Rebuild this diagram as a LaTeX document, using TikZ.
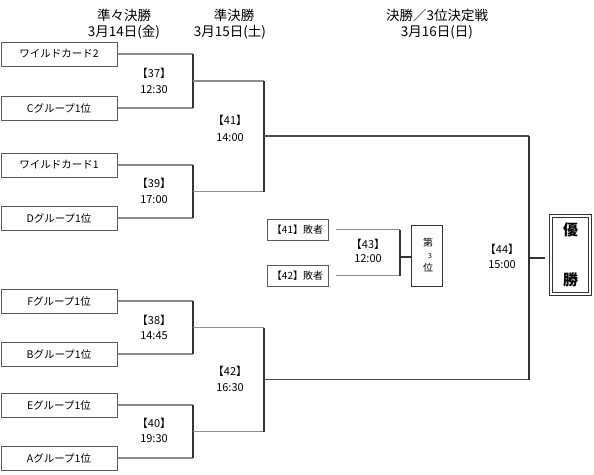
\documentclass[tikz,border=0pt]{standalone}
\usepackage{fontspec}
\setmainfont{Noto Sans CJK JP}
\begin{document}
\begin{tikzpicture}[x=1pt,y=-1pt,
  team/.style={draw=black!65, line width=1pt, minimum width=116pt, minimum height=24pt, inner sep=0pt, font=\fontsize{10.5}{12}\selectfont},
  loser/.style={draw=black!65, line width=1pt, minimum width=61pt, minimum height=21pt, inner sep=0pt, font=\fontsize{10}{12}\selectfont},
  hl/.style={draw=black!45, line width=1.3pt},
  hd/.style={draw=black!70, line width=1.2pt},
  vl/.style={draw=black!80, line width=1.2pt},
  lab/.style={font=\fontsize{11}{12}\selectfont, inner sep=0pt},
  hdr/.style={font=\fontsize{13.5}{15}\selectfont, inner sep=0pt}]
\useasboundingbox (0,0) rectangle (594,474);
% headers
\node[hdr] (h1a) at (124,15) {準々決勝};
\node[hdr] (h1b) at (124,32) {3月14日(金)};
\node[hdr] (h2a) at (234,15) {準決勝};
\node[hdr] (h2b) at (230,32) {3月15日(土)};
\node[hdr] (h3a) at (437,15) {決勝／3位決定戦};
\node[hdr] (h3b) at (437,32) {3月16日(日)};
% teams
\node[team] (t1) at (59,54) {ワイルドカード2};
\node[team] (t2) at (59,108) {Cグループ1位};
\node[team] (t3) at (59,165) {ワイルドカード1};
\node[team] (t4) at (59,218) {Dグループ1位};
\node[team] (t5) at (59,301) {Fグループ1位};
\node[team] (t6) at (59,354) {Bグループ1位};
\node[team] (t7) at (59,405) {Eグループ1位};
\node[team] (t8) at (59,458) {Aグループ1位};
% junction coordinates
\coordinate (a1) at (193,54); \coordinate (a2) at (193,108); \coordinate (m37) at (193,81);
\coordinate (a3) at (193,165); \coordinate (a4) at (193,218); \coordinate (m39) at (193,191.5);
\coordinate (a5) at (193,301); \coordinate (a6) at (193,354); \coordinate (m38) at (193,327.5);
\coordinate (a7) at (193,405); \coordinate (a8) at (193,458); \coordinate (m40) at (193,431.5);
\coordinate (b1) at (264,81); \coordinate (b2) at (264,191.5); \coordinate (m41) at (264,136);
\coordinate (b3) at (264,327.5); \coordinate (b4) at (264,431.5); \coordinate (m42) at (264,379.5);
\coordinate (c1) at (529,136); \coordinate (c2) at (529,379.5); \coordinate (m44) at (529,258);
% first round
\draw[hl] (t1.east) -- (a1); \draw[hl] (t2.east) -- (a2); \draw[vl] (a1) -- (a2);
\draw[hl] (t3.east) -- (a3); \draw[hl] (t4.east) -- (a4); \draw[vl] (a3) -- (a4);
\draw[hl] (t5.east) -- (a5); \draw[hl] (t6.east) -- (a6); \draw[vl] (a5) -- (a6);
\draw[hl] (t7.east) -- (a7); \draw[hl] (t8.east) -- (a8); \draw[vl] (a7) -- (a8);
% semifinal
\draw[hl] (m37) -- (b1); \draw[hl] (m39) -- (b2); \draw[vl] (b1) -- (b2);
\draw[hl] (m38) -- (b3); \draw[hl] (m40) -- (b4); \draw[vl] (b3) -- (b4);
% final
\draw[hd] (m41) -- (c1); \draw[hd] (m42) -- (c2); \draw[vl] (c1) -- (c2);
% champion box
\node[draw=black!80, double, double distance=2pt, line width=0.9pt, minimum width=39pt, minimum height=78pt, inner sep=0pt] (champ) at (570.5,255) {};
\node[font=\fontsize{15}{16}\selectfont\bfseries, inner sep=0pt] (yu) at (570.5,230) {優};
\node[font=\fontsize{15}{16}\selectfont\bfseries, inner sep=0pt] (sho) at (570.5,280) {勝};
\draw[vl, shorten >=6pt] (m44) -- (m44 -| champ.west);
% labels
\node[lab] (l37) at (154,73) {【37】}; \node[lab] (k37) at (154,90) {12:30};
\node[lab] (l39) at (154,183) {【39】}; \node[lab] (k39) at (154,200) {17:00};
\node[lab] (l38) at (154,320) {【38】}; \node[lab] (k38) at (154,336) {14:45};
\node[lab] (l40) at (154,423) {【40】}; \node[lab] (k40) at (154,439) {19:30};
\node[lab] (l41) at (230,120) {【41】}; \node[lab] (k41) at (230,138) {14:00};
\node[lab] (l42) at (230,371) {【42】}; \node[lab] (k42) at (230,388) {16:30};
\node[lab] (l44) at (502,249) {【44】}; \node[lab] (k44) at (502,265) {15:00};
\node[lab] (l43) at (368,244) {【43】}; \node[lab] (k43) at (368,259) {12:00};
% third place
\node[loser] (d1) at (297.5,229.5) {【41】敗者};
\node[loser] (d2) at (297.5,275.5) {【42】敗者};
\coordinate (e1) at (400,229.5); \coordinate (e2) at (400,275.5); \coordinate (m43) at (400,257);
\draw[hl, shorten <=7pt] (d1.east) -- (e1);
\draw[hl, shorten <=7pt] (d2.east) -- (e2);
\draw[vl] (e1) -- (e2);
\node[draw=black!80, line width=1pt, minimum width=31pt, minimum height=61pt, inner sep=0pt] (p3) at (427,255.5) {};
\draw[vl] (m43) -- (m43 -| p3.west);
\node[font=\fontsize{10}{11}\selectfont, inner sep=0pt] (q1) at (428,243) {第};
\node[font=\fontsize{7}{8}\selectfont, inner sep=0pt] (q2) at (430,256) {3};
\node[font=\fontsize{10}{11}\selectfont, inner sep=0pt] (q3) at (428,268) {位};
\end{tikzpicture}
\end{document}
